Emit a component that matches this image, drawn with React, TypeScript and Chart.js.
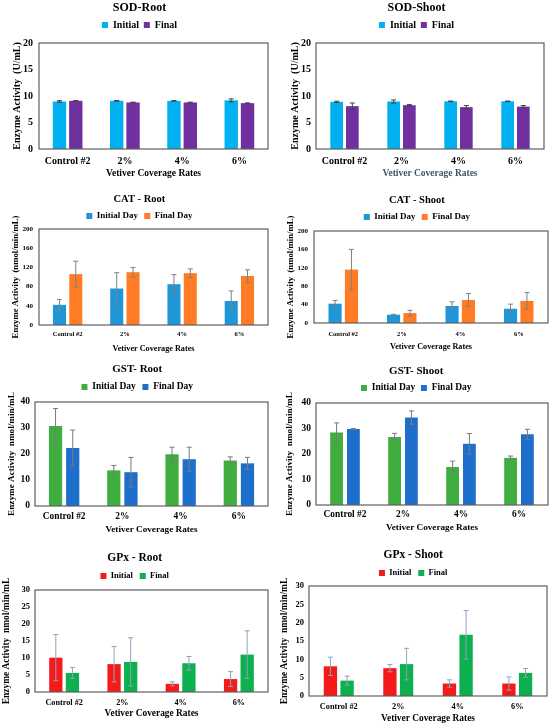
import React, { useEffect, useRef } from "react";
import { Chart, registerables } from "chart.js";

Chart.register(...registerables);

const SERIF = "'Liberation Serif', 'Times New Roman', serif";

const categories = ["Control #2", "2%", "4%", "6%"];

// SOD (U/mL)
const sodRootInitial = [8.97, 9.09, 9.08, 9.18];
const sodRootInitialErr = [0.15, 0.06, 0.05, 0.28];
const sodRootFinal = [9.09, 8.78, 8.78, 8.65];
const sodRootFinalErr = [0.05, 0.05, 0.05, 0.04];
const sodShootInitial = [8.9, 8.96, 9.0, 9.0];
const sodShootInitialErr = [0.12, 0.3, 0.05, 0.05];
const sodShootFinal = [8.08, 8.26, 7.9, 8.0];
const sodShootFinalErr = [0.6, 0.12, 0.3, 0.2];

// CAT (nmol/min/mL)
const catRootInitial = [42, 76, 85, 50];
const catRootInitialErr = [11, 33, 20, 21];
const catRootFinal = [106, 110, 108, 102];
const catRootFinalErr = [27, 10, 9, 13];
const catShootInitial = [42, 18, 37, 31];
const catShootInitialErr = [7, 1, 9, 10];
const catShootFinal = [116, 21.5, 50, 48];
const catShootFinalErr = [44, 6, 14, 18];

// GST (nmol/min/mL)
const gstRootInitial = [30.8, 13.7, 19.9, 17.5];
const gstRootInitialErr = [6.7, 1.9, 2.7, 1.4];
const gstRootFinal = [22.3, 13.0, 18.0, 16.4];
const gstRootFinalErr = [6.9, 5.7, 4.6, 2.3];
const gstShootInitial = [28.4, 26.7, 14.9, 18.5];
const gstShootInitialErr = [3.8, 1.4, 2.3, 0.7];
const gstShootFinal = [29.8, 34.3, 24.0, 27.75];
const gstShootFinalErr = [0.2, 2.6, 4.0, 1.95];

// GPx (nmol/min/mL)
const gpxRootInitial = [10.1, 8.2, 2.4, 3.8];
const gpxRootInitialErr = [6.8, 5.2, 0.6, 2.2];
const gpxRootFinal = [5.6, 8.85, 8.45, 11.0];
const gpxRootFinalErr = [1.6, 7.1, 2.0, 7.0];
const gpxShootInitial = [8.1, 7.6, 3.4, 3.4];
const gpxShootInitialErr = [2.5, 1.0, 1.0, 1.8];
const gpxShootFinal = [4.2, 8.7, 16.7, 6.3];
const gpxShootFinalErr = [1.2, 4.3, 6.6, 1.2];

const FRAME = "#5f5f5f";

interface PanelSpec {
  x: number; y: number; w: number; h: number;
  title: string; titleSize: number; titleY: number;
  labels: string[]; legendSize: number; legendY: number;
  colors: string[];
  series: number[][]; errors: number[][];
  plot: { left: number; right: number; top: number; bottom: number };
  yMax: number; yStep: number;
  yTitle: string; yTitleSize: number; yTitleX: number; yTickSize: number; yTickPad: number;
  xTickSize: number; xTickY: number; xTitleSize: number; xTitleY: number; xTitleColor: string;
  errColor: string; cp: number; bp: number;
}

const SOD_Y = "Enzyme Activity  (U/mL)";
const CAT_Y = "Enzyme Activity  (nmol/min/mL)";
const NMOL_Y = "Enzyme Activity  nmol/min/mL";

const panels: PanelSpec[] = [
  {
    x: 0, y: 0, w: 275, h: 180, title: "SOD-Root", titleSize: 12, titleY: 8,
    labels: ["Initial", "Final"], legendSize: 10, legendY: 25, colors: ["#00B0F0", "#7030A0"],
    series: [sodRootInitial, sodRootFinal], errors: [sodRootInitialErr, sodRootFinalErr],
    plot: { left: 39, right: 268, top: 43, bottom: 149 }, yMax: 20, yStep: 5,
    yTitle: SOD_Y, yTitleSize: 10, yTitleX: 17, yTickSize: 10, yTickPad: 6,
    xTickSize: 10, xTickY: 161, xTitleSize: 9.5, xTitleY: 174, xTitleColor: "#000",
    errColor: "#404040", cp: 0.57, bp: 0.82,
  },
  {
    x: 275, y: 0, w: 275, h: 180, title: "SOD-Shoot", titleSize: 12, titleY: 8,
    labels: ["Initial", "Final"], legendSize: 10, legendY: 25, colors: ["#00B0F0", "#7030A0"],
    series: [sodShootInitial, sodShootFinal], errors: [sodShootInitialErr, sodShootFinalErr],
    plot: { left: 41, right: 269, top: 43, bottom: 149 }, yMax: 20, yStep: 5,
    yTitle: SOD_Y, yTitleSize: 10, yTitleX: 20, yTickSize: 10, yTickPad: 5,
    xTickSize: 10, xTickY: 161, xTitleSize: 9.5, xTitleY: 174, xTitleColor: "#44546A",
    errColor: "#404040", cp: 0.55, bp: 0.81,
  },
  {
    x: 0, y: 180, w: 275, h: 180, title: "CAT - Root", titleSize: 10.5, titleY: 19,
    labels: ["Initial Day", "Final Day"], legendSize: 9, legendY: 36, colors: ["#1F96D8", "#FF7C24"],
    series: [catRootInitial, catRootFinal], errors: [catRootInitialErr, catRootFinalErr],
    plot: { left: 39, right: 268, top: 49, bottom: 145 }, yMax: 200, yStep: 40,
    yTitle: CAT_Y, yTitleSize: 8.7, yTitleX: 16, yTickSize: 7, yTickPad: 6,
    xTickSize: 6.5, xTickY: 154, xTitleSize: 8.2, xTitleY: 169, xTitleColor: "#000",
    errColor: "#808080", cp: 0.57, bp: 0.8,
  },
  {
    x: 275, y: 180, w: 275, h: 180, title: "CAT - Shoot", titleSize: 10.5, titleY: 20,
    labels: ["Initial Day", "Final Day"], legendSize: 9, legendY: 37, colors: ["#1F96D8", "#FF7C24"],
    series: [catShootInitial, catShootFinal], errors: [catShootInitialErr, catShootFinalErr],
    plot: { left: 39, right: 273, top: 51, bottom: 143 }, yMax: 200, yStep: 40,
    yTitle: CAT_Y, yTitleSize: 8.7, yTitleX: 16, yTickSize: 7, yTickPad: 6,
    xTickSize: 6.5, xTickY: 154, xTitleSize: 8.2, xTitleY: 167, xTitleColor: "#000",
    errColor: "#808080", cp: 0.56, bp: 0.8,
  },
  {
    x: 0, y: 360, w: 275, h: 180, title: "GST- Root", titleSize: 11, titleY: 9,
    labels: ["Initial Day", "Final Day"], legendSize: 9.5, legendY: 27, colors: ["#3FAE3F", "#1E6FCB"],
    series: [gstRootInitial, gstRootFinal], errors: [gstRootInitialErr, gstRootFinalErr],
    plot: { left: 35, right: 268, top: 42, bottom: 146 }, yMax: 40, yStep: 5,
    yTitle: NMOL_Y, yTitleSize: 9.2, yTitleX: 12, yTickSize: 9.5, yTickPad: 5,
    xTickSize: 9.4, xTickY: 157, xTitleSize: 9.2, xTitleY: 170, xTitleColor: "#000",
    errColor: "#7a7a7a", cp: 0.59, bp: 0.77,
  },
  {
    x: 275, y: 360, w: 275, h: 180, title: "GST- Shoot", titleSize: 11, titleY: 11,
    labels: ["Initial Day", "Final Day"], legendSize: 9.5, legendY: 28, colors: ["#3FAE3F", "#1E6FCB"],
    series: [gstShootInitial, gstShootFinal], errors: [gstShootInitialErr, gstShootFinalErr],
    plot: { left: 41, right: 273, top: 43, bottom: 145 }, yMax: 40, yStep: 5,
    yTitle: NMOL_Y, yTitleSize: 9.2, yTitleX: 15, yTickSize: 9.5, yTickPad: 5,
    xTickSize: 9.4, xTickY: 155, xTitleSize: 9.2, xTitleY: 168, xTitleColor: "#000",
    errColor: "#7a7a7a", cp: 0.58, bp: 0.76,
  },
  {
    x: 0, y: 540, w: 275, h: 187, title: "GPx - Root", titleSize: 11.5, titleY: 18,
    labels: ["Initial", "Final"], legendSize: 8.5, legendY: 36, colors: ["#F41A1A", "#0DB04E"],
    series: [gpxRootInitial, gpxRootFinal], errors: [gpxRootInitialErr, gpxRootFinalErr],
    plot: { left: 35, right: 268, top: 50, bottom: 152 }, yMax: 30, yStep: 5,
    yTitle: NMOL_Y, yTitleSize: 9.4, yTitleX: 7, yTickSize: 8.5, yTickPad: 5,
    xTickSize: 8.2, xTickY: 163, xTitleSize: 9.4, xTitleY: 174, xTitleColor: "#000",
    errColor: "#8FA3BA", cp: 0.57, bp: 0.8,
  },
  {
    x: 275, y: 540, w: 275, h: 187, title: "GPx - Shoot", titleSize: 11.5, titleY: 15,
    labels: ["Initial", "Final"], legendSize: 8.5, legendY: 33, colors: ["#F41A1A", "#0DB04E"],
    series: [gpxShootInitial, gpxShootFinal], errors: [gpxShootInitialErr, gpxShootFinalErr],
    plot: { left: 34, right: 272, top: 46, bottom: 156 }, yMax: 30, yStep: 5,
    yTitle: NMOL_Y, yTitleSize: 9.4, yTitleX: 10, yTickSize: 8.5, yTickPad: 5,
    xTickSize: 8.3, xTickY: 167, xTitleSize: 9.4, xTitleY: 179, xTitleColor: "#000",
    errColor: "#8FA3BA", cp: 0.56, bp: 0.8,
  },
];

// box around the plot area
const framePlugin = {
  id: "frame",
  afterDatasetsDraw(chart: any) {
    const { ctx, chartArea: a } = chart;
    ctx.save();
    ctx.strokeStyle = FRAME;
    ctx.lineWidth = 1.2;
    ctx.strokeRect(a.left, a.top, a.right - a.left, a.bottom - a.top);
    ctx.restore();
  },
};

// +/- error whiskers, positioned through the y scale
const errorBarPlugin = {
  id: "errorBars",
  afterDatasetsDraw(chart: any, _args: any, opts: any) {
    const { ctx } = chart;
    const y = chart.scales.y;
    ctx.save();
    ctx.strokeStyle = opts.color;
    ctx.lineWidth = 1;
    chart.data.datasets.forEach((ds: any, di: number) => {
      const meta = chart.getDatasetMeta(di);
      meta.data.forEach((bar: any, i: number) => {
        const v = ds.data[i];
        const e = ds.errors[i];
        const hi = y.getPixelForValue(v + e);
        const lo = y.getPixelForValue(Math.max(0, v - e));
        const cap = 2.5;
        ctx.beginPath();
        ctx.moveTo(bar.x, hi);
        ctx.lineTo(bar.x, lo);
        ctx.moveTo(bar.x - cap, hi);
        ctx.lineTo(bar.x + cap, hi);
        ctx.moveTo(bar.x - cap, lo);
        ctx.lineTo(bar.x + cap, lo);
        ctx.stroke();
      });
    });
    ctx.restore();
  },
};

const Panel: React.FC<{ p: PanelSpec }> = ({ p }) => {
  const canvasRef = useRef<HTMLCanvasElement | null>(null);

  useEffect(() => {
    if (!canvasRef.current) return;

    const titlePadTop = Math.max(0, p.titleY - 0.6 * p.titleSize);
    const legendTop = titlePadTop + 1.2 * p.titleSize;
    const legendPad = Math.max(0, p.legendY - legendTop - p.legendSize / 2);
    const legendH = p.plot.top - legendTop;

    const yTitleLH = 1.2 * p.yTitleSize;
    const padLeft = Math.max(0, p.yTitleX - yTitleLH / 2);
    const xTitleBottom = p.xTitleY + (1.2 * p.xTitleSize) / 2;
    const xAxisH = xTitleBottom - p.plot.bottom;
    const xTickPad = p.xTickY - p.plot.bottom - (1.2 * p.xTickSize) / 2;

    // legend height override so the plot top lands where it should
    const legendHeight = {
      id: "legendHeight",
      beforeLayout(chart: any) {
        const lg = chart.legend;
        if (!lg || lg._fixed) return;
        const fit = lg.fit;
        lg.fit = function () {
          fit.call(this);
          this.height = legendH;
        };
        lg._fixed = true;
      },
    };

    const chart = new Chart(canvasRef.current, {
      type: "bar",
      data: {
        labels: categories,
        datasets: p.series.map((s, i) => ({
          label: p.labels[i],
          data: s,
          errors: p.errors[i],
          backgroundColor: p.colors[i],
          borderWidth: 0,
          categoryPercentage: p.cp,
          barPercentage: p.bp,
        })) as any,
      },
      options: {
        responsive: false,
        animation: false,
        layout: {
          padding: { top: 0, left: padLeft, right: p.w - p.plot.right, bottom: p.h - xTitleBottom },
        },
        plugins: {
          title: {
            display: true,
            text: p.title,
            color: "#000",
            font: { family: SERIF, size: p.titleSize, weight: "bold" },
            padding: { top: titlePadTop, bottom: 0 },
          },
          legend: {
            display: true,
            labels: {
              color: "#000",
              boxWidth: 6,
              boxHeight: 6,
              padding: legendPad,
              font: { family: SERIF, size: p.legendSize, weight: "bold" },
            },
          },
          tooltip: { enabled: false },
          errorBars: { color: p.errColor },
        } as any,
        scales: {
          x: {
            grid: { display: false, drawTicks: false },
            border: { display: false },
            ticks: {
              color: "#000",
              padding: xTickPad,
              maxRotation: 0,
              autoSkip: false,
              font: { family: SERIF, size: p.xTickSize, weight: "bold" },
            },
            title: {
              display: true,
              text: "Vetiver Coverage Rates",
              color: p.xTitleColor,
              padding: { top: 0, bottom: 0 },
              font: { family: SERIF, size: p.xTitleSize, weight: "bold" },
            },
            afterFit: (scale: any) => {
              scale.height = xAxisH;
            },
          },
          y: {
            min: 0,
            max: p.yMax,
            grid: { display: false, drawTicks: false },
            border: { display: false },
            ticks: {
              stepSize: p.yStep,
              color: "#000",
              padding: p.yTickPad,
              font: { family: SERIF, size: p.yTickSize, weight: "bold" },
            },
            title: {
              display: true,
              text: p.yTitle,
              color: "#000",
              padding: { top: 0, bottom: 0 },
              font: { family: SERIF, size: p.yTitleSize, weight: "bold" },
            },
            afterFit: (scale: any) => {
              scale.width = p.plot.left - padLeft;
            },
          },
        },
      },
      plugins: [legendHeight, framePlugin, errorBarPlugin],
    });

    return () => {
      chart.destroy();
    };
  }, [p]);

  return (
    <canvas
      ref={canvasRef}
      width={p.w}
      height={p.h}
      style={{ position: "absolute", left: p.x, top: p.y, width: p.w, height: p.h }}
    />
  );
};

const App: React.FC = () => {
  return (
    <div
      style={{
        position: "absolute",
        left: 0,
        top: 0,
        width: 550,
        height: 727,
        background: "#fff",
        overflow: "hidden",
      }}
    >
      {panels.map((p) => (
        <Panel key={p.title} p={p} />
      ))}
    </div>
  );
};

export default App;
